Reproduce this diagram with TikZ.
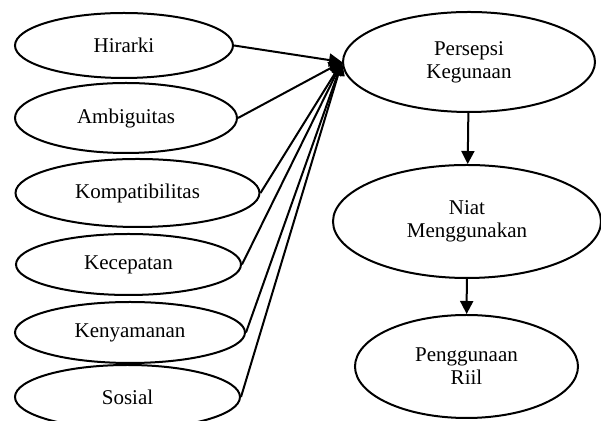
\documentclass[tikz,border=0pt]{standalone}
\usepackage{fontspec}
\setmainfont{Liberation Serif}
\usetikzlibrary{arrows.meta,shapes.geometric}

\begin{document}
\begin{tikzpicture}[x=0.5pt,y=-0.5pt]
                    \tikzstyle{every node}+=[inner sep=0pt, font=\fontsize{10.5}{11.5}\selectfont]
                    \tikzstyle{factor}=[draw=black, line width=1pt, ellipse, align=center]
                    \tikzstyle{link}=[draw=black, line width=1pt, -{Triangle[length=6.5pt,width=6.5pt]}]
                    \useasboundingbox (0,0) rectangle (601,421);
                    % left column
                    \node [factor, minimum width=109pt, minimum height=32.5pt] (hirarki) at (124,45.5) {Hirarki};
                    \node [factor, minimum width=111pt, minimum height=35pt] (ambiguitas) at (126,118) {Ambiguitas};
                    \node [factor, minimum width=122pt, minimum height=34pt] (kompatibilitas) at (137.5,193) {Kompatibilitas};
                    \node [factor, minimum width=112.5pt, minimum height=30.5pt] (kecepatan) at (128.5,264.5) {Kecepatan};
                    \node [factor, minimum width=115pt, minimum height=30.5pt] (kenyamanan) at (130,332.5) {Kenyamanan};
                    \node [factor, minimum width=112.5pt, minimum height=32pt] (sosial) at (127.5,397) {Sosial};
                    % right column
                    \node [factor, minimum width=126pt, minimum height=50pt] (persepsi) at (469,62) {Persepsi\\Kegunaan};
                    \node [factor, minimum width=134pt, minimum height=56.5pt] (niat) at (467,221.5) {Niat\\Menggunakan};
                    \node [factor, minimum width=111.5pt, minimum height=51.5pt] (penggunaan) at (466.5,366.5) {Penggunaan\\Riil};
                    % arrows
                    \draw [link] (hirarki.east) -- (persepsi.west);
                    \draw [link] (ambiguitas.east) -- (persepsi.west);
                    \draw [link] (kompatibilitas.east) -- (persepsi.west);
                    \draw [link] (kecepatan.east) -- (persepsi.west);
                    \draw [link] (kenyamanan.east) -- (persepsi.west);
                    \draw [link] (sosial.east) -- (persepsi.west);
                    \draw [link] (persepsi) -- (niat);
                    \draw [link] (niat) -- (penggunaan);
                \end{tikzpicture}
\end{document}
